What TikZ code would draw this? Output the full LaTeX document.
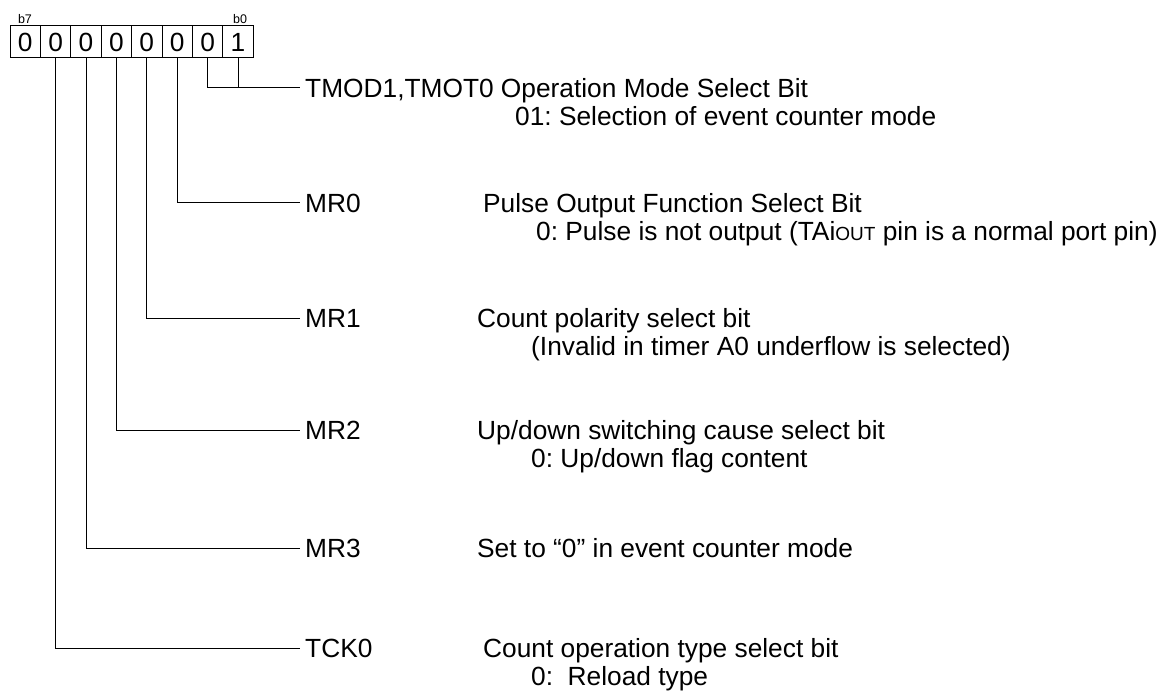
\documentclass[tikz,border=0pt]{standalone}
\usepackage{fontspec}
\setmainfont{Liberation Sans}
\usetikzlibrary{positioning}

\newcommand\txtsize{\fontsize{26.3}{30}\selectfont}

\begin{document}
\frenchspacing
\begin{tikzpicture}[x=1pt, y=-1pt,
    bit/.style={draw, line width=1pt, minimum width=30.4pt, minimum height=32pt,
                inner sep=0pt, font=\txtsize},
    bitno/.style={anchor=base, inner sep=0pt, font=\fontsize{12.5}{13}\selectfont},
    fld/.style={anchor=west, inner xsep=5pt, inner ysep=0pt, text height=18.8pt,
                text depth=0pt, font=\txtsize},
    desc/.style={anchor=west, inner sep=0pt, text height=18.8pt, text depth=0pt,
                 font=\txtsize},
    wire/.style={line width=1pt}
]
\useasboundingbox (0,0) rectangle (1172,695);

% ============================================================
% register bits b7 ... b0
% ============================================================
\foreach \b/\v [count=\k from 0] in {7/0,6/0,5/0,4/0,3/0,2/0,1/0,0/1} {
    \node[bit] (c\b) at (25.2+\k*30.4, 42) {\v};
}
\node[bitno] (b7) at (25, 24) {b7};
\node[bitno] (b0) at (240, 24) {b0};

% ============================================================
% bit names
% ============================================================
\node[fld] (tmod) at (300, 88)  {TMOD1,TMOT0 Operation Mode Select Bit};
\node[fld] (mr0)  at (300, 203) {MR0};
\node[fld] (mr1)  at (300, 318) {MR1};
\node[fld] (mr2)  at (300, 430) {MR2};
\node[fld] (mr3)  at (300, 548) {MR3};
\node[fld] (tck0) at (300, 648) {TCK0};

% descriptions
\node[desc] (tmodd) at (515, 116) {01: Selection of event counter mode};
\node[desc] (mr0a)  at (483, 203) {Pulse Output Function Select Bit};
\node[desc] (mr0b)  at (536, 231) {0: Pulse is not output (TAi{\fontsize{19}{20}\selectfont OUT} pin is a normal port pin)};
\node[desc] (mr1a)  at (477, 318) {Count polarity select bit};
\node[desc] (mr1b)  at (531, 346) {(Invalid in timer A0 underflow is selected)};
\node[desc] (mr2a)  at (477, 430) {Up/down switching cause select bit};
\node[desc] (mr2b)  at (531, 458) {0: Up/down flag content};
\node[desc] (mr3a)  at (477, 548) {Set to “0” in event counter mode};
\node[desc] (tck0a) at (483, 648) {Count operation type select bit};
\node[desc] (tck0b) at (531, 676) {0:\ \ Reload type};

% ============================================================
% leader lines
% ============================================================
\draw[wire] (c1.south) |- (tmod.west);
\draw[wire] (c0.south) -- (c0.south |- tmod.west);
\draw[wire] (c2.south) |- (mr0.west);
\draw[wire] (c3.south) |- (mr1.west);
\draw[wire] (c4.south) |- (mr2.west);
\draw[wire] (c5.south) |- (mr3.west);
\draw[wire] (c6.south) |- (tck0.west);

\end{tikzpicture}
\end{document}
